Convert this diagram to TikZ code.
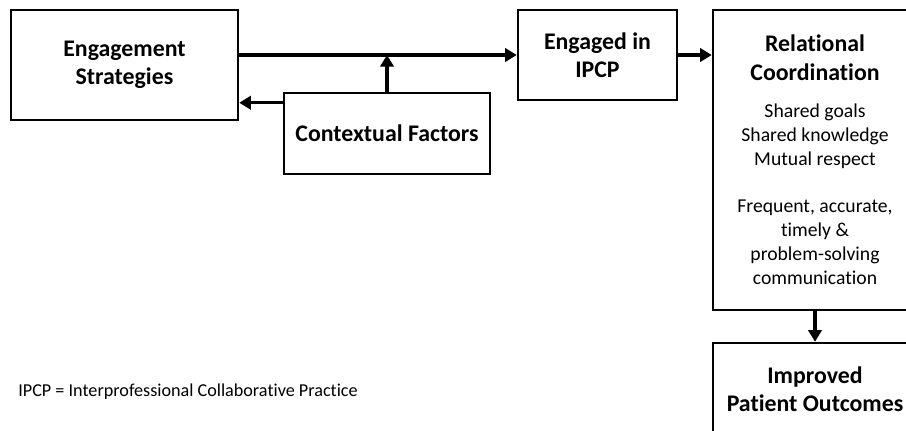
\documentclass[tikz,border=0pt]{standalone}
\usepackage{fontspec}
\setmainfont{Carlito}[Ligatures=NoCommon]
\usepackage{tikz}
\usetikzlibrary{arrows.meta}

\begin{document}
\begin{tikzpicture}[x=0.6pt, y=0.6pt,
    frame/.style={draw, line width=1.5pt, inner sep=0pt},
    box/.style={frame, align=center, font=\bfseries\fontsize{14.3}{16.5}\selectfont},
    arr/.style={line width=2.1pt, -{Triangle[length=7pt,width=8pt]}}]
    % frame of the picture
    \clip (0,0) rectangle (906,430);

    % boxes
    \node[box, minimum width=136.2pt, minimum height=66pt] (strat) at (124.5,365) {Engagement\\Strategies};
    \node[box, minimum width=123.6pt, minimum height=48.6pt] (ctx) at (387,296.5) {Contextual Factors};
    \node[box, minimum width=95.4pt, minimum height=54pt] (ipcp) at (597.5,375) {Engaged in\\IPCP};
    \node[frame, minimum width=122.4pt, minimum height=180pt] (rc) at (815,270) {%
        \parbox{122pt}{\centering
        {\bfseries\fontsize{14.3}{17.4}\selectfont Relational\\Coordination\par}\vspace{7.5pt}
        {\fontsize{11.8}{14.5}\selectfont Shared goals\\Shared knowledge\\Mutual respect\par}\vspace{13.5pt}
        {\fontsize{11.8}{14.5}\selectfont Frequent, accurate,\\timely \&\\problem-solving\\communication\par}}};
    \node[box, minimum width=122.4pt, minimum height=55.2pt] (outc) at (815,41) {Improved\\Patient Outcomes};

    \node[anchor=west, inner sep=0pt, font=\fontsize{10.9}{13}\selectfont] (note) at (18,38)
        {IPCP = Interprofessional Collaborative Practice};

    % arrows
    \draw[arr] (strat.east |- ipcp.west) -- (ipcp.west);
    \draw[arr] (ctx.north) -- (ctx.north |- ipcp.west);
    \draw[arr] ([yshift=-6.6pt]ctx.north west) -- ([yshift=-6.6pt]ctx.north west -| strat.east);
    \draw[arr] (ipcp.east) -- (ipcp.east -| rc.west);
    \draw[arr] (rc.south) -- (outc.north);
\end{tikzpicture}
\end{document}
